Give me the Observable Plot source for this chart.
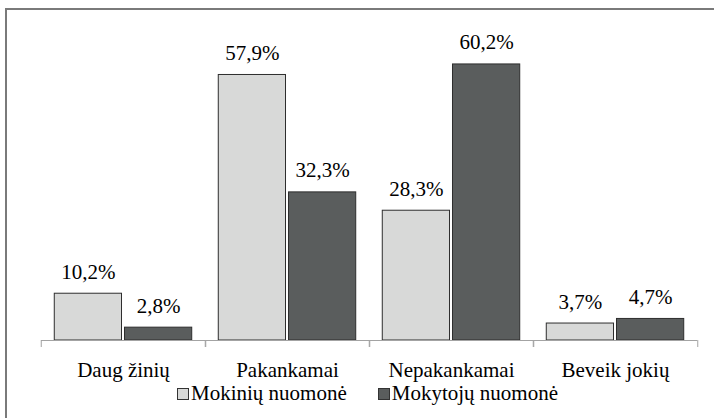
<!DOCTYPE html>
<html>
<head>
<meta charset="utf-8">
<script src="https://cdn.jsdelivr.net/npm/d3@7"></script>
<script src="https://cdn.jsdelivr.net/npm/@observablehq/plot@0.6"></script>
<style>
  html, body { margin: 0; padding: 0; background: #fff; }
  body { width: 714px; height: 418px; position: relative; overflow: hidden; }
  html body *, html body svg text, html body svg g { font-family: 'Liberation Serif', serif !important; }
  #frame { position: absolute; left: 5px; top: 8px; width: 720px; height: 420px; border-top: 2px solid #7a7a7a; border-left: 2px solid #7a7a7a; box-sizing: border-box; }
  #chart { position: absolute; left: 0; top: 0; }
  #legend { position: absolute; left: 177px; top: 381px; display: flex; align-items: baseline; font-size: 21px; color: #000; white-space: nowrap; }
  .sw { display: inline-block; width: 12px; height: 12px; border: 1px solid #333; margin-right: 2px; box-sizing: border-box; }
  .item { display: flex; align-items: baseline; }
</style>
</head>
<body>
<div id="frame"></div>
<div id="chart"></div>
<div id="legend"></div>
<script>
const categories = ["Daug žinių", "Pakankamai", "Nepakankamai", "Beveik jokių"];
const series = ["Mokinių nuomonė", "Mokytojų nuomonė"];
const mokiniuValues = [10.2, 57.9, 28.3, 3.7];
const mokytojuValues = [2.8, 32.3, 60.2, 4.7];
const colors = ["#d8d9d8", "#5a5d5d"];

const data = [];
categories.forEach((c, i) => {
  data.push({category: c, series: series[0], value: mokiniuValues[i]});
  data.push({category: c, series: series[1], value: mokytojuValues[i]});
});

const fmt = v => v.toFixed(1).replace(".", ",") + "%";
const W = 714, ML = 40, MR = 16;
const half = (W - ML - MR) / categories.length / 2;
const FONT = "'Liberation Serif', serif";

const chart = Plot.plot({
  width: W,
  height: 383,
  marginLeft: ML,
  marginRight: MR,
  marginTop: 19,
  marginBottom: 43,
  style: {fontFamily: FONT, fontSize: "21px", color: "#000", background: "transparent"},
  fx: {domain: categories, padding: 0, label: null},
  x: {domain: series, paddingInner: 0.0426, paddingOuter: 0.189, round: false, axis: null},
  y: {domain: [0, 70], axis: null},
  color: {domain: series, range: colors},
  marks: [
    Plot.barY(data, {fx: "category", x: "series", y: "value", fill: "series", stroke: "#2e2e2e", strokeWidth: 1}),
    Plot.ruleY([0], {stroke: "#a3a3a3", strokeWidth: 1}),
    Plot.axisFx({anchor: "bottom", tickSize: 7, tickFormat: () => "", dx: -half, stroke: "#a3a3a3", label: null}),
    Plot.axisFx({anchor: "bottom", tickSize: 7, tickFormat: () => "", dx: half, stroke: "#a3a3a3", label: null}),
    Plot.axisFx({anchor: "bottom", tickSize: 0, tickPadding: 22, fontSize: 21, fill: "#000", label: null}),
    Plot.text(data, {fx: "category", x: "series", y: "value", text: d => fmt(d.value), lineAnchor: "bottom", dy: -15, fontSize: 21, fill: "#000"})
  ]
});
chart.querySelectorAll("text").forEach(el => el.setAttribute("font-family", "Liberation Serif"));
document.getElementById("chart").appendChild(chart);

const legend = document.getElementById("legend");
series.forEach((s, i) => {
  const item = document.createElement("span");
  item.className = "item";
  if (i > 0) item.style.marginLeft = "31px";
  const sw = document.createElement("span");
  sw.className = "sw";
  sw.style.background = colors[i];
  const t = document.createElement("span");
  t.textContent = s;
  item.appendChild(sw);
  item.appendChild(t);
  legend.appendChild(item);
});
</script>
</body>
</html>
